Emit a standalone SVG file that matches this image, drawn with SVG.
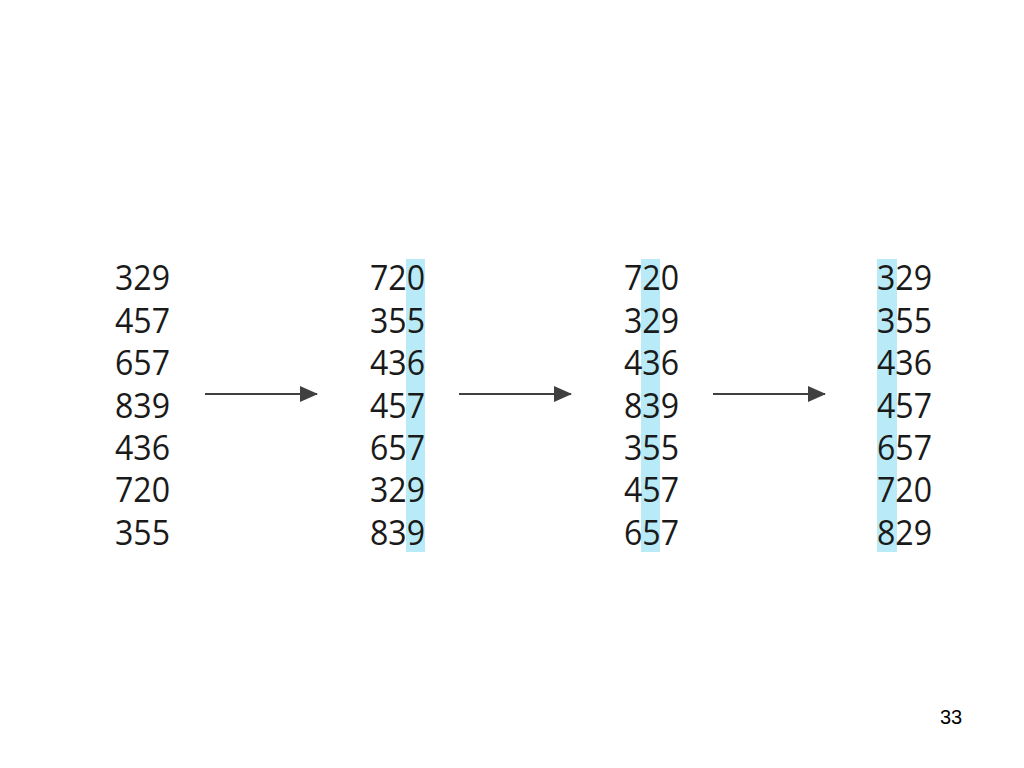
<svg xmlns="http://www.w3.org/2000/svg" width="1024" height="768" viewBox="0 0 1024 768">
<defs>
<style>
.n{font-family:"Open Sans","Noto Sans",sans-serif;font-size:34px;fill:#1a1a1a}
.hl{fill:#b8ebf7}
.ar{stroke:#404040;stroke-width:2;fill:none;marker-end:url(#ah)}
.pg{font-family:"Liberation Sans",Arial,sans-serif;font-size:20px;fill:#000}
</style>
<marker id="ah" markerWidth="18" markerHeight="16" refX="17" refY="8" orient="auto" markerUnits="userSpaceOnUse" viewBox="0 0 18 16">
<path d="M0,0 L18,8 L0,16 Z" fill="#404040"/>
</marker>
</defs>
<rect width="1024" height="768" fill="#fff"/>
<g id="highlights">
<rect class="hl" x="406" y="259" width="19" height="293"/>
<rect class="hl" x="641" y="259" width="19" height="293"/>
<rect class="hl" x="877" y="259" width="20" height="293"/>
</g>
<g id="col1">
<text class="n" x="115" y="290" textLength="55" lengthAdjust="spacingAndGlyphs">329</text>
<text class="n" x="115" y="332.5" textLength="55" lengthAdjust="spacingAndGlyphs">457</text>
<text class="n" x="115" y="375" textLength="55" lengthAdjust="spacingAndGlyphs">657</text>
<text class="n" x="115" y="417.5" textLength="55" lengthAdjust="spacingAndGlyphs">839</text>
<text class="n" x="115" y="460" textLength="55" lengthAdjust="spacingAndGlyphs">436</text>
<text class="n" x="115" y="502" textLength="55" lengthAdjust="spacingAndGlyphs">720</text>
<text class="n" x="115" y="544.5" textLength="55" lengthAdjust="spacingAndGlyphs">355</text>
</g>
<g id="col2">
<text class="n" x="370" y="290" textLength="55" lengthAdjust="spacingAndGlyphs">720</text>
<text class="n" x="370" y="332.5" textLength="55" lengthAdjust="spacingAndGlyphs">355</text>
<text class="n" x="370" y="375" textLength="55" lengthAdjust="spacingAndGlyphs">436</text>
<text class="n" x="370" y="417.5" textLength="55" lengthAdjust="spacingAndGlyphs">457</text>
<text class="n" x="370" y="460" textLength="55" lengthAdjust="spacingAndGlyphs">657</text>
<text class="n" x="370" y="502" textLength="55" lengthAdjust="spacingAndGlyphs">329</text>
<text class="n" x="370" y="544.5" textLength="55" lengthAdjust="spacingAndGlyphs">839</text>
</g>
<g id="col3">
<text class="n" x="624" y="290" textLength="55" lengthAdjust="spacingAndGlyphs">720</text>
<text class="n" x="624" y="332.5" textLength="55" lengthAdjust="spacingAndGlyphs">329</text>
<text class="n" x="624" y="375" textLength="55" lengthAdjust="spacingAndGlyphs">436</text>
<text class="n" x="624" y="417.5" textLength="55" lengthAdjust="spacingAndGlyphs">839</text>
<text class="n" x="624" y="460" textLength="55" lengthAdjust="spacingAndGlyphs">355</text>
<text class="n" x="624" y="502" textLength="55" lengthAdjust="spacingAndGlyphs">457</text>
<text class="n" x="624" y="544.5" textLength="55" lengthAdjust="spacingAndGlyphs">657</text>
</g>
<g id="col4">
<text class="n" x="877" y="290" textLength="55" lengthAdjust="spacingAndGlyphs">329</text>
<text class="n" x="877" y="332.5" textLength="55" lengthAdjust="spacingAndGlyphs">355</text>
<text class="n" x="877" y="375" textLength="55" lengthAdjust="spacingAndGlyphs">436</text>
<text class="n" x="877" y="417.5" textLength="55" lengthAdjust="spacingAndGlyphs">457</text>
<text class="n" x="877" y="460" textLength="55" lengthAdjust="spacingAndGlyphs">657</text>
<text class="n" x="877" y="502" textLength="55" lengthAdjust="spacingAndGlyphs">720</text>
<text class="n" x="877" y="544.5" textLength="55" lengthAdjust="spacingAndGlyphs">829</text>
</g>
<g id="connectors">
<line class="ar" x1="205" y1="394" x2="317" y2="394"/>
<line class="ar" x1="459" y1="394" x2="571" y2="394"/>
<line class="ar" x1="713" y1="394" x2="825" y2="394"/>
</g>
<text class="pg" x="951" y="724" text-anchor="middle">33</text>
</svg>
